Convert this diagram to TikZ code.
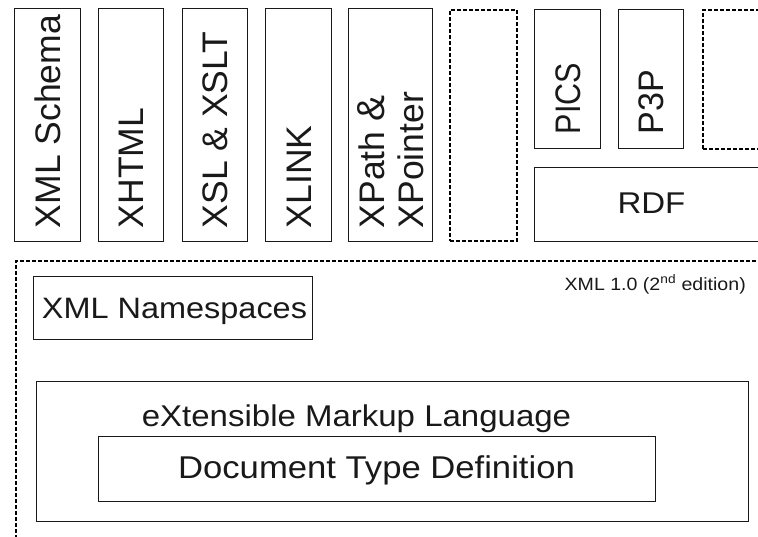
\documentclass[tikz,border=0pt]{standalone}
\usepackage{fontspec}
\setmainfont{Liberation Sans}
\newfontfamily\widefont[FakeStretch=1.1]{Liberation Sans}
\begin{document}
\begin{tikzpicture}[x=1pt,y=-1pt,
  box/.style={draw=black!90, line width=1.4pt, inner sep=0pt, anchor=north west},
  dbox/.style={box, draw=black, line width=1.8pt, dash pattern=on 4pt off 2pt},
  vlabel/.style={rotate=90, anchor=base west, inner sep=0pt, text=black!90, font=\fontsize{35.5}{39}\selectfont},
  hlabel/.style={inner sep=0pt, anchor=base, text=black!90, font=\widefont\fontsize{30}{34}\selectfont}]
\useasboundingbox (0,0) rectangle (758,536);
\clip (0,0) rectangle (758,536);

% top row of vertical boxes
\node[box, minimum width=66pt, minimum height=233pt] (schema) at (14,8) {};
\node[box, minimum width=65pt, minimum height=233pt] (xhtml) at (98,8) {};
\node[box, minimum width=65pt, minimum height=233pt] (xsl) at (182,8) {};
\node[box, minimum width=66pt, minimum height=233pt] (xlink) at (265,8) {};
\node[box, minimum width=84pt, minimum height=233pt] (xpath) at (348,8) {};
\node[dbox, minimum width=67pt, minimum height=231pt] (empty1) at (449,9) {};
\node[box, minimum width=66pt, minimum height=139pt] (pics) at (534,9) {};
\node[box, minimum width=65pt, minimum height=139pt] (p3p) at (618,9) {};
\node[dbox, minimum width=100pt, minimum height=139pt] (empty2) at (702,9) {};
\node[box, minimum width=300pt, minimum height=74pt] (rdf) at (534,167) {};

\node[vlabel] (schemat) at ([xshift=12.7pt,yshift=14pt]schema.south) {XML Schema};
\node[vlabel] (xhtmlt) at ([xshift=12.7pt,yshift=14pt]xhtml.south) {XHTML};
\node[vlabel] (xslt) at ([xshift=12.7pt,yshift=14pt]xsl.south) {XSL \& XSLT};
\node[vlabel] (xlinkt) at ([xshift=12.7pt,yshift=14pt]xlink.south) {XLINK};
\node[vlabel, anchor=west, align=left] (xpatht) at ([yshift=14pt]xpath.south) {XPath {\fontsize{39}{39}\selectfont\&}\\XPointer};
\node[vlabel] (picst) at ([xshift=12.7pt,yshift=15pt]pics.south) {\scalebox{0.86}[1]{PICS}};
\node[vlabel] (p3pt) at ([xshift=12.7pt,yshift=15pt]p3p.south) {\scalebox{0.96}[1]{P3P}};
\node[hlabel] (rdft) at (651.5,213) {RDF};

% lower XML area
\node[dbox, minimum width=800pt, minimum height=400pt] (xmlarea) at (15,260) {};
\node[hlabel, anchor=base east, font=\widefont\fontsize{17.8}{20}\selectfont] (xml10) at (746,290) {XML 1.0 (2\textsuperscript{nd} edition)};
\node[box, minimum width=279pt, minimum height=63pt] (ns) at (33,276) {};
\node[hlabel, font=\widefont\fontsize{29.5}{34}\selectfont] (nst) at (174.5,318) {XML Namespaces};
\node[box, minimum width=712pt, minimum height=140pt] (ext) at (36,381) {};
\node[hlabel] (extt) at (356.5,426) {eXtensible Markup Language};
\node[box, minimum width=557pt, minimum height=65pt] (dtd) at (98,436) {};
\node[hlabel, font=\widefont\fontsize{31.5}{34}\selectfont] (dtdt) at (376.5,478) {Document Type Definition};
\end{tikzpicture}
\end{document}
